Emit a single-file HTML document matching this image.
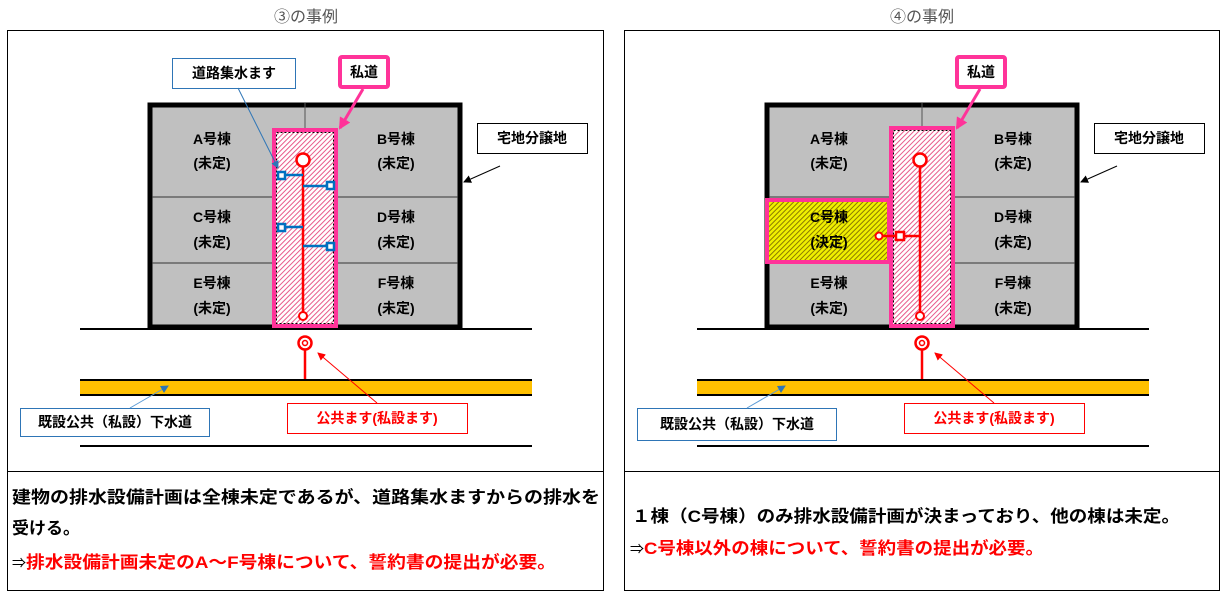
<!DOCTYPE html>
<html><head><meta charset="utf-8"><style>
html,body{margin:0;padding:0;background:#fff;}
svg{display:block;}
text{font-family:"Liberation Sans","Noto Sans CJK JP",sans-serif;}
</style></head><body>
<svg width="1228" height="596" viewBox="0 0 1228 596" xmlns="http://www.w3.org/2000/svg">
<defs>
<pattern id="ph" width="3.5" height="3.5" patternUnits="userSpaceOnUse" patternTransform="rotate(45)">
<rect width="3.5" height="3.5" fill="#fff"/><rect width="1" height="3.5" fill="#e85a8a"/></pattern>
<pattern id="yh" width="3.5" height="3.5" patternUnits="userSpaceOnUse" patternTransform="rotate(45)">
<rect width="3.5" height="3.5" fill="#f0f000"/><rect width="1" height="3.5" fill="#8a7a00"/></pattern>
<marker id="ab" markerWidth="8" markerHeight="8" refX="7" refY="4" orient="auto" markerUnits="userSpaceOnUse"><path d="M0,0 L8,4 L0,8z" fill="#2e75b6"/></marker>
<marker id="ak" markerWidth="8" markerHeight="8" refX="7" refY="4" orient="auto" markerUnits="userSpaceOnUse"><path d="M0,0 L8,4 L0,8z" fill="#000"/></marker>
<marker id="ar" markerWidth="8" markerHeight="8" refX="7" refY="4" orient="auto" markerUnits="userSpaceOnUse"><path d="M0,0 L8,4 L0,8z" fill="#f00"/></marker>
<marker id="ap" markerWidth="12" markerHeight="12" refX="10" refY="6" orient="auto" markerUnits="userSpaceOnUse"><path d="M0,0 L12,6 L0,12z" fill="#ff3399"/></marker>
</defs>

<text x="306" y="22" font-size="16" text-anchor="middle" fill="#555">③の事例</text>
<text x="922" y="22" font-size="16" text-anchor="middle" fill="#555">④の事例</text>

<!-- LEFT PANEL -->
<rect x="7.5" y="30.5" width="596" height="560" fill="none" stroke="#000" stroke-width="1"/>
<line x1="7" y1="471.5" x2="604" y2="471.5" stroke="#000"/>
<g>
<rect x="150" y="105" width="310" height="222" fill="#c0c0c0" stroke="#000" stroke-width="5"/>
<line x1="152" y1="197" x2="458" y2="197" stroke="#333" stroke-width="1"/>
<line x1="152" y1="263" x2="458" y2="263" stroke="#333" stroke-width="1"/>
<line x1="305" y1="103" x2="305" y2="128" stroke="#555" stroke-width="1"/>
<rect x="274" y="130" width="62" height="196" fill="url(#ph)" stroke="#ff3399" stroke-width="4"/>
<rect x="276.5" y="132.5" width="57" height="191" fill="none" stroke="#000" stroke-width="1" stroke-dasharray="2,2"/>
<line x1="303" y1="166" x2="303" y2="312" stroke="#f00" stroke-width="2.5"/>
<circle cx="303" cy="160" r="6.5" fill="#fff" stroke="#f00" stroke-width="2.5"/>
<circle cx="303" cy="316" r="4" fill="#fff" stroke="#f00" stroke-width="2"/>
<g stroke="#0070c0" stroke-width="2.5"><line x1="281" y1="175" x2="303" y2="175"/><line x1="303" y1="186" x2="330" y2="186"/><line x1="281" y1="227" x2="303" y2="227"/><line x1="303" y1="246" x2="330" y2="246"/></g>
<g fill="#fff" stroke="#0070c0" stroke-width="2.5"><rect x="278" y="172" width="7" height="7"/><rect x="327" y="182" width="7" height="7"/><rect x="278" y="224" width="7" height="7"/><rect x="327" y="243" width="7" height="7"/></g>
<g font-size="14" font-weight="bold" text-anchor="middle" fill="#000">
<text x="212" y="144">A号棟</text><text x="212" y="168">(未定)</text>
<text x="396" y="144">B号棟</text><text x="396" y="168">(未定)</text>
<text x="212" y="222">C号棟</text><text x="212" y="247">(未定)</text>
<text x="396" y="222">D号棟</text><text x="396" y="247">(未定)</text>
<text x="212" y="288">E号棟</text><text x="212" y="313">(未定)</text>
<text x="396" y="288">F号棟</text><text x="396" y="313">(未定)</text>
</g>
<line x1="80" y1="329" x2="532" y2="329" stroke="#000" stroke-width="2"/>
<rect x="80" y="380" width="452" height="15" fill="#ffc000"/>
<line x1="80" y1="380" x2="532" y2="380" stroke="#000" stroke-width="2"/>
<line x1="80" y1="395" x2="532" y2="395" stroke="#000" stroke-width="2"/>
<line x1="80" y1="446" x2="532" y2="446" stroke="#000" stroke-width="2"/>
<line x1="305" y1="350" x2="305" y2="379" stroke="#f00" stroke-width="2.5"/>
<circle cx="305" cy="343" r="6.5" fill="#fff" stroke="#f00" stroke-width="2.5"/>
<circle cx="305" cy="343" r="2.5" fill="#fff" stroke="#f00" stroke-width="1.5"/>
<rect x="172.5" y="58.5" width="123" height="30" fill="#fff" stroke="#2e75b6"/>
<text x="234" y="78" font-size="14" font-weight="bold" text-anchor="middle">道路集水ます</text>
<line x1="238" y1="88" x2="278" y2="168" stroke="#2e75b6" stroke-width="1" marker-end="url(#ab)"/>
<rect x="340" y="57" width="48" height="30" rx="2" fill="#fff" stroke="#ff3399" stroke-width="4"/>
<text x="364" y="77" font-size="14" font-weight="bold" text-anchor="middle">私道</text>
<line x1="363" y1="89" x2="340" y2="128" stroke="#ff3399" stroke-width="3" marker-end="url(#ap)"/>
<rect x="477.5" y="123.5" width="110" height="30" fill="#fff" stroke="#000"/>
<text x="532" y="143" font-size="14" font-weight="bold" text-anchor="middle">宅地分譲地</text>
<line x1="500" y1="166" x2="464" y2="182" stroke="#000" stroke-width="1" marker-end="url(#ak)"/>
<rect x="20.5" y="408.5" width="189" height="28" fill="#fff" stroke="#2e75b6"/>
<text x="115" y="427" font-size="14" font-weight="bold" text-anchor="middle">既設公共（私設）下水道</text>
<line x1="130" y1="408" x2="168" y2="386" stroke="#5b9bd5" stroke-width="1" marker-end="url(#ab)"/>
<rect x="287.5" y="403.5" width="180" height="30" fill="#fff" stroke="#f00"/>
<text x="377" y="423" font-size="14" font-weight="bold" text-anchor="middle" fill="#f00">公共ます(私設ます)</text>
<line x1="377" y1="403" x2="318" y2="353" stroke="#f00" stroke-width="1" marker-end="url(#ar)"/>
</g>
<g font-size="17" font-weight="bold">
<text x="12" y="503" textLength="588" lengthAdjust="spacingAndGlyphs">建物の排水設備計画は全棟未定であるが、道路集水ますからの排水を</text>
<text x="12" y="534">受ける。</text>
<text x="12" y="568"><tspan font-size="14" font-weight="normal">⇒</tspan><tspan fill="#f00" textLength="530" lengthAdjust="spacingAndGlyphs">排水設備計画未定のA～F号棟について、誓約書の提出が必要。</tspan></text>
</g>

<!-- RIGHT PANEL -->
<rect x="624.5" y="30.5" width="595" height="560" fill="none" stroke="#000" stroke-width="1"/>
<line x1="624" y1="471.5" x2="1220" y2="471.5" stroke="#000"/>
<g>
<rect x="767" y="105" width="310" height="222" fill="#c0c0c0" stroke="#000" stroke-width="5"/>
<line x1="769" y1="197" x2="1075" y2="197" stroke="#333" stroke-width="1"/>
<line x1="769" y1="263" x2="1075" y2="263" stroke="#333" stroke-width="1"/>
<line x1="922" y1="103" x2="922" y2="128" stroke="#555" stroke-width="1"/>
<rect x="767" y="200" width="122" height="62" fill="url(#yh)" stroke="#ff3399" stroke-width="4"/>
<rect x="891" y="128" width="62" height="198" fill="url(#ph)" stroke="#ff3399" stroke-width="4"/>
<rect x="893.5" y="130.5" width="57" height="193" fill="none" stroke="#000" stroke-width="1" stroke-dasharray="2,2"/>
<line x1="920" y1="166" x2="920" y2="312" stroke="#f00" stroke-width="2.5"/>
<circle cx="920" cy="160" r="6.5" fill="#fff" stroke="#f00" stroke-width="2.5"/>
<circle cx="920" cy="316" r="4" fill="#fff" stroke="#f00" stroke-width="2"/>
<line x1="882" y1="236" x2="920" y2="236" stroke="#f00" stroke-width="2.5"/>
<circle cx="879" cy="236" r="3.5" fill="#fff" stroke="#f00" stroke-width="2"/>
<rect x="896" y="232" width="8" height="8" fill="#fff" stroke="#f00" stroke-width="2.5"/>
<g font-size="14" font-weight="bold" text-anchor="middle" fill="#000">
<text x="829" y="144">A号棟</text><text x="829" y="168">(未定)</text>
<text x="1013" y="144">B号棟</text><text x="1013" y="168">(未定)</text>
<text x="829" y="222">C号棟</text><text x="829" y="247">(決定)</text>
<text x="1013" y="222">D号棟</text><text x="1013" y="247">(未定)</text>
<text x="829" y="288">E号棟</text><text x="829" y="313">(未定)</text>
<text x="1013" y="288">F号棟</text><text x="1013" y="313">(未定)</text>
</g>
<line x1="697" y1="329" x2="1149" y2="329" stroke="#000" stroke-width="2"/>
<rect x="697" y="380" width="452" height="15" fill="#ffc000"/>
<line x1="697" y1="380" x2="1149" y2="380" stroke="#000" stroke-width="2"/>
<line x1="697" y1="395" x2="1149" y2="395" stroke="#000" stroke-width="2"/>
<line x1="697" y1="446" x2="1149" y2="446" stroke="#000" stroke-width="2"/>
<line x1="922" y1="350" x2="922" y2="379" stroke="#f00" stroke-width="2.5"/>
<circle cx="922" cy="343" r="6.5" fill="#fff" stroke="#f00" stroke-width="2.5"/>
<circle cx="922" cy="343" r="2.5" fill="#fff" stroke="#f00" stroke-width="1.5"/>
<rect x="957" y="57" width="48" height="30" rx="2" fill="#fff" stroke="#ff3399" stroke-width="4"/>
<text x="981" y="77" font-size="14" font-weight="bold" text-anchor="middle">私道</text>
<line x1="980" y1="89" x2="957" y2="128" stroke="#ff3399" stroke-width="3" marker-end="url(#ap)"/>
<rect x="1094.5" y="123.5" width="110" height="30" fill="#fff" stroke="#000"/>
<text x="1149" y="143" font-size="14" font-weight="bold" text-anchor="middle">宅地分譲地</text>
<line x1="1117" y1="166" x2="1081" y2="182" stroke="#000" stroke-width="1" marker-end="url(#ak)"/>
<rect x="637.5" y="408.5" width="199" height="32" fill="#fff" stroke="#2e75b6"/>
<text x="737" y="429" font-size="14" font-weight="bold" text-anchor="middle">既設公共（私設）下水道</text>
<line x1="747" y1="408" x2="785" y2="386" stroke="#5b9bd5" stroke-width="1" marker-end="url(#ab)"/>
<rect x="904.5" y="403.5" width="180" height="30" fill="#fff" stroke="#f00"/>
<text x="994" y="423" font-size="14" font-weight="bold" text-anchor="middle" fill="#f00">公共ます(私設ます)</text>
<line x1="994" y1="403" x2="935" y2="353" stroke="#f00" stroke-width="1" marker-end="url(#ar)"/>
</g>
<g font-size="17" font-weight="bold">
<text x="632" y="522" textLength="548" lengthAdjust="spacingAndGlyphs">１棟（C号棟）のみ排水設備計画が決まっており、他の棟は未定。</text>
<text x="630" y="554"><tspan font-size="14" font-weight="normal">⇒</tspan><tspan fill="#f00" textLength="400" lengthAdjust="spacingAndGlyphs">C号棟以外の棟について、誓約書の提出が必要。</tspan></text>
</g>
</svg>
</body></html>
